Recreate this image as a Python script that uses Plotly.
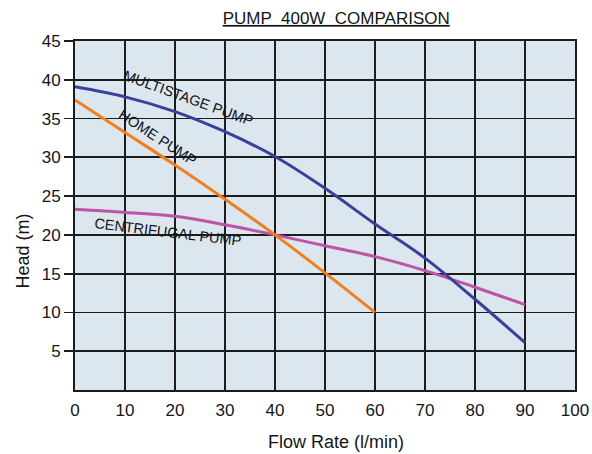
import plotly.graph_objects as go

flow = [0, 10, 20, 30, 40, 50, 60, 70, 80, 90]
multistage = [39.1, 37.8, 35.9, 33.3, 30.1, 26.0, 21.4, 17.0, 11.7, 6.1]
home_flow = [0, 10, 20, 30, 40, 50, 60]
home = [37.4, 33.2, 29.0, 24.6, 20.0, 15.1, 10.0]
centrifugal = [23.3, 22.9, 22.4, 21.3, 20.0, 18.6, 17.2, 15.4, 13.25, 11.0]

x_ticks = [0, 10, 20, 30, 40, 50, 60, 70, 80, 90, 100]
y_ticks = [5, 10, 15, 20, 25, 30, 35, 40, 45]

labels = ["MULTISTAGE PUMP", "HOME PUMP", "CENTRIFUGAL PUMP"]
label_x = [22.6, 16.4, 18.5]
label_y = [37.6, 32.6, 20.4]
label_angle = [20, 33, 7]

BLUE = "#3a3f98"
ORANGE = "#f07f1e"
MAGENTA = "#bb55a5"
GRID = "#1c1c1c"
FONT = "Liberation Sans, Arial, sans-serif"

fig = go.Figure()
fig.add_trace(go.Scatter(x=flow, y=centrifugal, mode="lines",
                         line=dict(color=MAGENTA, width=3, shape="spline")))
fig.add_trace(go.Scatter(x=home_flow, y=home, mode="lines",
                         line=dict(color=ORANGE, width=3, shape="spline")))
fig.add_trace(go.Scatter(x=flow, y=multistage, mode="lines",
                         line=dict(color=BLUE, width=3, shape="spline")))

for t, lx, ly, a in zip(labels, label_x, label_y, label_angle):
    fig.add_annotation(x=lx, y=ly, text=t, showarrow=False, textangle=a,
                       font=dict(family=FONT, size=14.5, color="#111118"))

fig.add_annotation(xref="paper", yref="paper", x=0.522, y=-0.149, text="Flow Rate (l/min)",
                   xanchor="center", yanchor="middle", showarrow=False,
                   font=dict(family=FONT, size=18, color="#151515"))
fig.add_annotation(xref="paper", yref="paper", x=-0.103, y=0.398, text="Head (m)",
                   xanchor="center", yanchor="middle", textangle=-90, showarrow=False,
                   font=dict(family=FONT, size=18, color="#151515"))

fig.update_layout(
    width=592, height=454,
    margin=dict(l=75, r=17, t=41, b=64, autoexpand=False),
    paper_bgcolor="white",
    plot_bgcolor="#dce6ef",
    showlegend=False,
    hovermode=False,
    title=dict(text="<u>PUMP  400W  COMPARISON</u>", x=0.568, xanchor="center",
               y=1 - 18 / 454, yanchor="middle",
               font=dict(family=FONT, size=17, color="#151515")),
    xaxis=dict(range=[0, 100], tickvals=x_ticks, showgrid=True, gridcolor=GRID,
               gridwidth=1.8, showline=True, linecolor=GRID, linewidth=2, mirror=True,
               ticks="", zeroline=False, ticklabelstandoff=4, automargin=False,
               tickfont=dict(family=FONT, size=17, color="#151515")),
    yaxis=dict(range=[0, 45], tickvals=y_ticks, showgrid=True, gridcolor=GRID,
               gridwidth=1.8, showline=True, linecolor=GRID, linewidth=2, mirror=True,
               ticks="outside", ticklen=9, tickcolor=GRID, tickwidth=1.8, zeroline=False,
               automargin=False,
               tickfont=dict(family=FONT, size=17, color="#151515")),
)

fig.write_html("out.html",
               config={"displayModeBar": False, "staticPlot": True},
               post_script="document.body.style.margin='0';document.body.style.overflow='hidden';")
